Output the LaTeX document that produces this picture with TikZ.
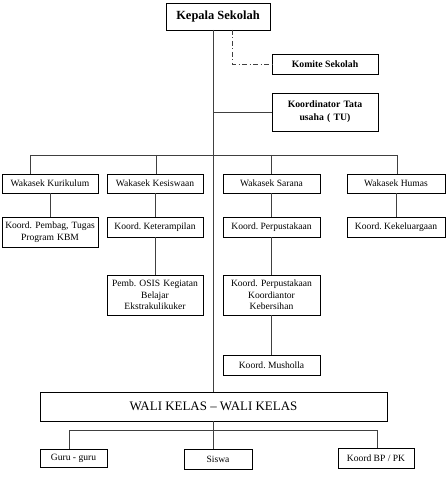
\documentclass[tikz,border=0pt]{standalone}
\usepackage{fontspec}
\setmainfont{Liberation Serif}
\usetikzlibrary{positioning}
\frenchspacing

\tikzset{
  kotak/.style={draw, thin, inner sep=1pt, align=center, font=\fontsize{9.6}{11.5}\selectfont},
  garis/.style={draw=black!75, line width=0.8pt},
}

\begin{document}
\begin{tikzpicture}[x=1bp, y=-1bp]
    \useasboundingbox (0,0) rectangle (446,495);
    % pimpinan
    \node[kotak, minimum width=104bp, minimum height=27bp, font=\bfseries\fontsize{12.5}{14}\selectfont] (kepala) at (218,16.5) {Kepala Sekolah};
    \node[kotak, minimum width=106bp, minimum height=20bp, font=\bfseries\fontsize{9.8}{11}\selectfont] (komite) at (325,64) {Komite Sekolah};
    \node[kotak, minimum width=106bp, minimum height=38bp, text width=100bp, font=\bfseries\fontsize{9.8}{13}\selectfont] (tu) at (325,112) {Koordinator Tata\\usaha ( TU)};
    % wakasek
    \node[kotak, minimum width=96bp, minimum height=19bp] (kur) at (50,183.5) {Wakasek Kurikulum};
    \node[kotak, minimum width=96bp, minimum height=19bp] (kes) at (155,183.5) {Wakasek Kesiswaan};
    \node[kotak, minimum width=97bp, minimum height=19bp] (sar) at (271.5,183.5) {Wakasek Sarana};
    \node[kotak, minimum width=98bp, minimum height=19bp] (hum) at (396,183.5) {Wakasek Humas};
    % koordinator
    \node[kotak, minimum width=96bp, minimum height=30bp, text width=92bp] (pembag) at (50,232) {Koord. Pembag, Tugas\\Program KBM};
    \node[kotak, minimum width=96bp, minimum height=20bp] (ketr) at (155,227) {Koord. Keterampilan};
    \node[kotak, minimum width=96bp, minimum height=40bp, text width=92bp] (osis) at (155,295) {Pemb. OSIS Kegiatan\\Belajar\\Ekstrakulikuker};
    \node[kotak, minimum width=97bp, minimum height=20bp] (perpus) at (271.5,227) {Koord. Perpustakaan};
    \node[kotak, minimum width=97bp, minimum height=40bp, text width=93bp] (bersih) at (271.5,295) {Koord. Perpustakaan\\Koordiantor\\Kebersihan};
    \node[kotak, minimum width=97bp, minimum height=20bp] (mushola) at (271.5,365) {Koord. Musholla};
    \node[kotak, minimum width=98bp, minimum height=20bp] (kelu) at (396,227) {Koord. Kekeluargaan};
    % wali kelas
    \node[kotak, minimum width=347bp, minimum height=29bp, font=\fontsize{13}{15}\selectfont] (wali) at (213.5,406.5) {WALI KELAS -- WALI KELAS};
    \node[kotak, minimum width=67bp, minimum height=18bp] (guru) at (73.5,458) {Guru - guru};
    \node[kotak, minimum width=68bp, minimum height=20bp] (siswa) at (218,459) {Siswa};
    \node[kotak, minimum width=76bp, minimum height=20bp] (bp) at (376,458) {Koord BP / PK};

    % titik bantu
    \coordinate (pusat) at (213,30);
    \coordinate (putus) at (232,30);
    \coordinate (w1) at (30,155);
    \coordinate (w2) at (156,155);
    \coordinate (w3) at (271,155);
    \coordinate (w4) at (397,155);
    \coordinate (g1) at (69,430);
    \coordinate (g2) at (213,430);
    \coordinate (g3) at (377,430);

    % garis
    \draw[garis] (pusat) -- (pusat |- wali.north);
    \draw[garis, dash pattern=on 5bp off 2.5bp on 1bp off 2.5bp] (putus) |- (komite.west);
    \draw[garis] (pusat |- tu.west) -- (tu.west);
    \draw[garis] (w1) -- (w4);
    \foreach \w/\k in {w1/kur, w2/kes, w3/sar, w4/hum}
        \draw[garis] (\w) -- (\w |- \k.north);
    \draw[garis] (kur.south) -- (pembag.north);
    \draw[garis] (kes.south) -- (ketr.north);
    \draw[garis] (ketr.south) -- (osis.north);
    \draw[garis] (sar.south) -- (perpus.north);
    \draw[garis] (perpus.south) -- (bersih.north);
    \draw[garis] (bersih.south) -- (mushola.north);
    \draw[garis] (hum.south) -- (kelu.north);
    \draw[garis] (g2 |- wali.south) -- (g2);
    \draw[garis] (g1) -- (g3);
    \foreach \g/\k in {g1/guru, g2/siswa, g3/bp}
        \draw[garis] (\g) -- (\g |- \k.north);
\end{tikzpicture}
\end{document}
